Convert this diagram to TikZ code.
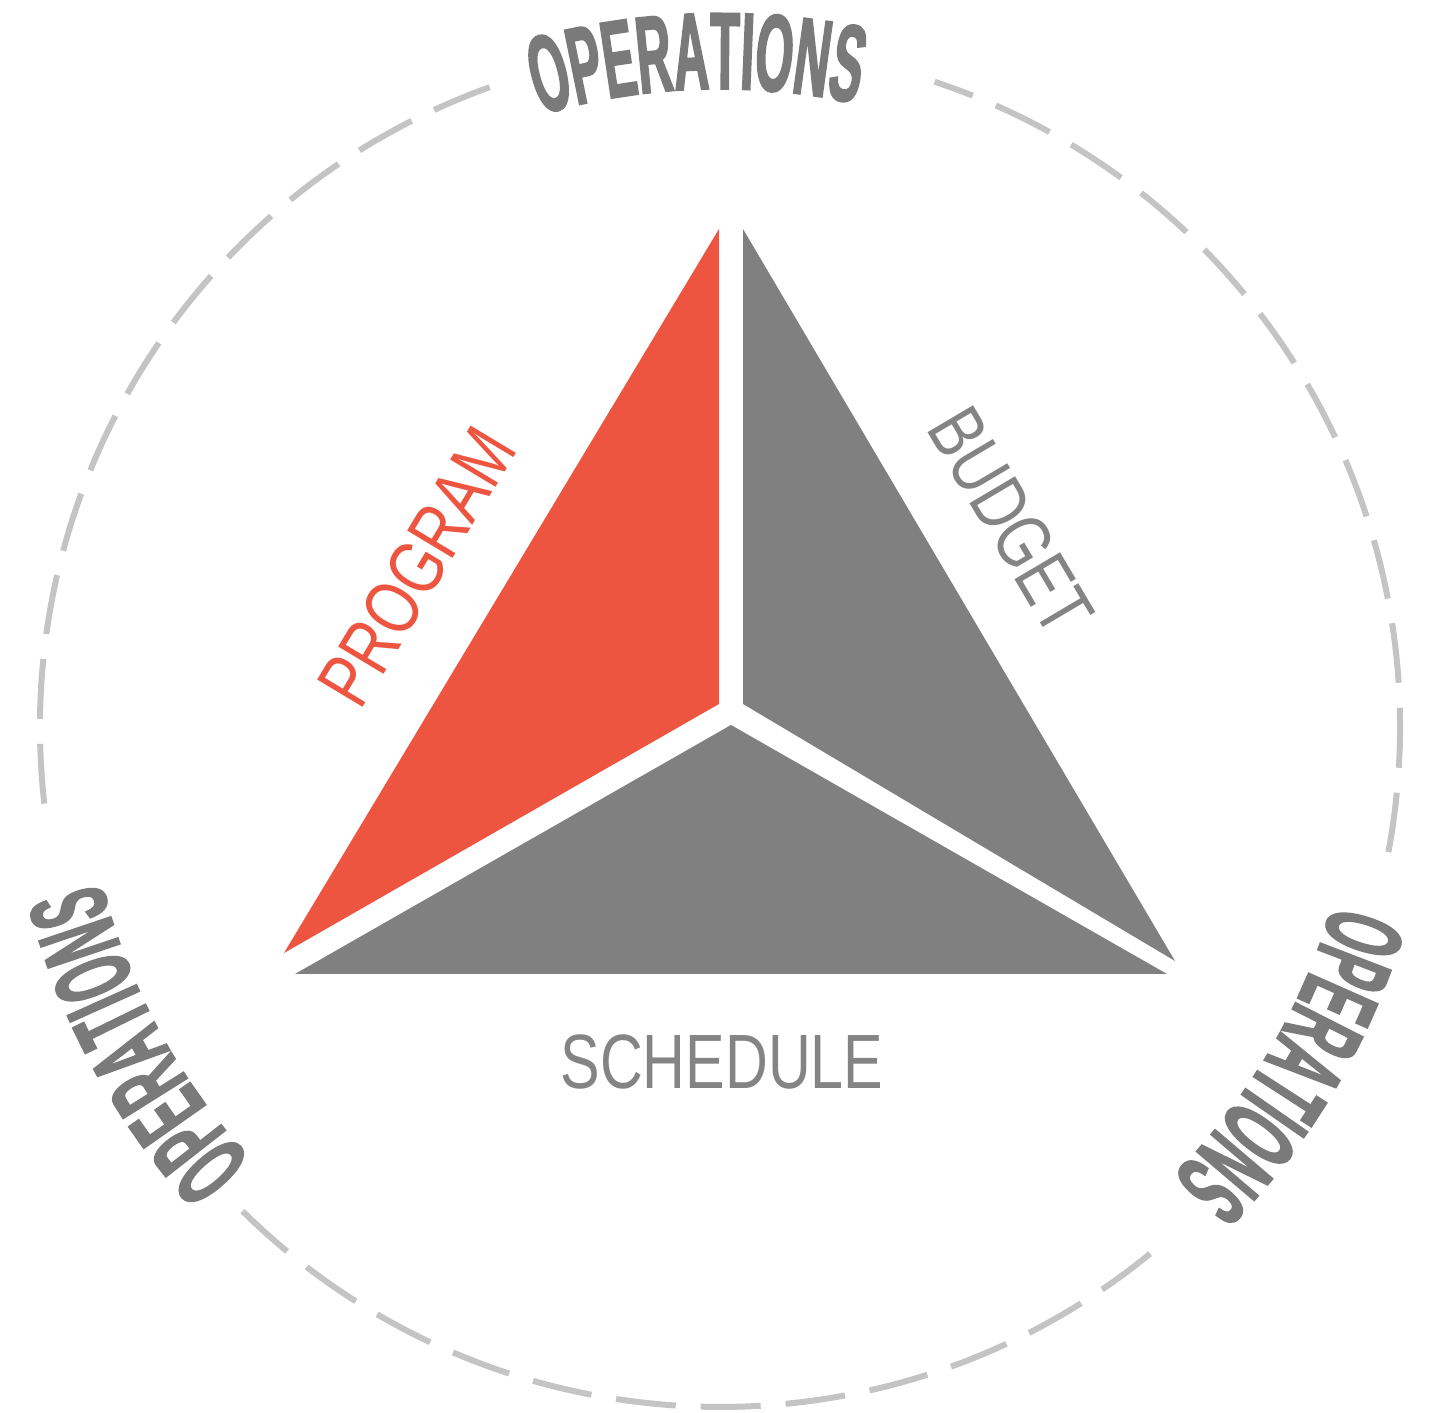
\documentclass[tikz,border=0pt]{standalone}
\usepackage{fontspec}
\usetikzlibrary{decorations.text}
\newfontfamily\labelfont[FakeStretch=0.77]{Liberation Sans}
\newfontfamily\opsfont[FakeStretch=0.44,FakeBold=1.5]{Liberation Sans}
\definecolor{progred}{HTML}{EE5540}
\definecolor{trigray}{HTML}{808080}
\definecolor{txtgray}{HTML}{848484}
\definecolor{opsgray}{HTML}{7A7A7A}
\definecolor{ringgray}{HTML}{C4C4C4}
\begin{document}
\begin{tikzpicture}[x=1pt,y=1pt,
  ring/.style={draw=ringgray, line width=6pt, dash pattern=on 60pt off 25pt},
  lbl/.style={font=\labelfont\fontsize{77}{77}\selectfont, inner sep=0pt},
  opstext/.style={decorate, decoration={text along path, text align=center,
      text color=opsgray,
      text={|\opsfont\bfseries\fontsize{110}{110}\selectfont|OPERATIONS}}}]
\useasboundingbox (0,0) rectangle (1438,1413);
\coordinate (O) at (720,686);
% triangle pieces
\coordinate (rA) at (719,1184);
\coordinate (rC) at (719,709);
\coordinate (rB) at (284,460);
\coordinate (gA) at (743,1184);
\coordinate (gC) at (743,709);
\coordinate (gD) at (1175,452);
\coordinate (bB) at (295,439);
\coordinate (bD) at (1167,439);
\coordinate (bC) at (731,688);
\fill[progred] (rA) -- (rC) -- (rB) -- cycle;
\fill[trigray] (gA) -- (gC) -- (gD) -- cycle;
\fill[trigray] (bC) -- (bB) -- (bD) -- cycle;
% labels
\node[lbl, text=progred, rotate=59] (program) at (417,846) {PROGRAM};
\node[lbl, text=txtgray, rotate=-59.4] (budget) at (1011,892) {BUDGET};
\node[lbl, text=txtgray] (schedule) at (722,351) {SCHEDULE};
% dashed ring
\draw[ring] (O) ++(109.8:680) arc[start angle=109.8, end angle=187, radius=680];
\draw[ring] (O) ++(225.4:680) arc[start angle=225.4, end angle=310, radius=680];
\draw[ring] (O) ++(349.4:680) arc[start angle=349.4, end angle=431.6, radius=680];
% operations texts
\path[opstext] (O) ++(132:638) arc[start angle=132, end angle=52, radius=638];
\path[opstext] (O) ++(248.5:638) arc[start angle=248.5, end angle=168.5, radius=638];
\path[opstext] (O) ++(369.5:638) arc[start angle=369.5, end angle=289.5, radius=638];
\end{tikzpicture}
\end{document}
